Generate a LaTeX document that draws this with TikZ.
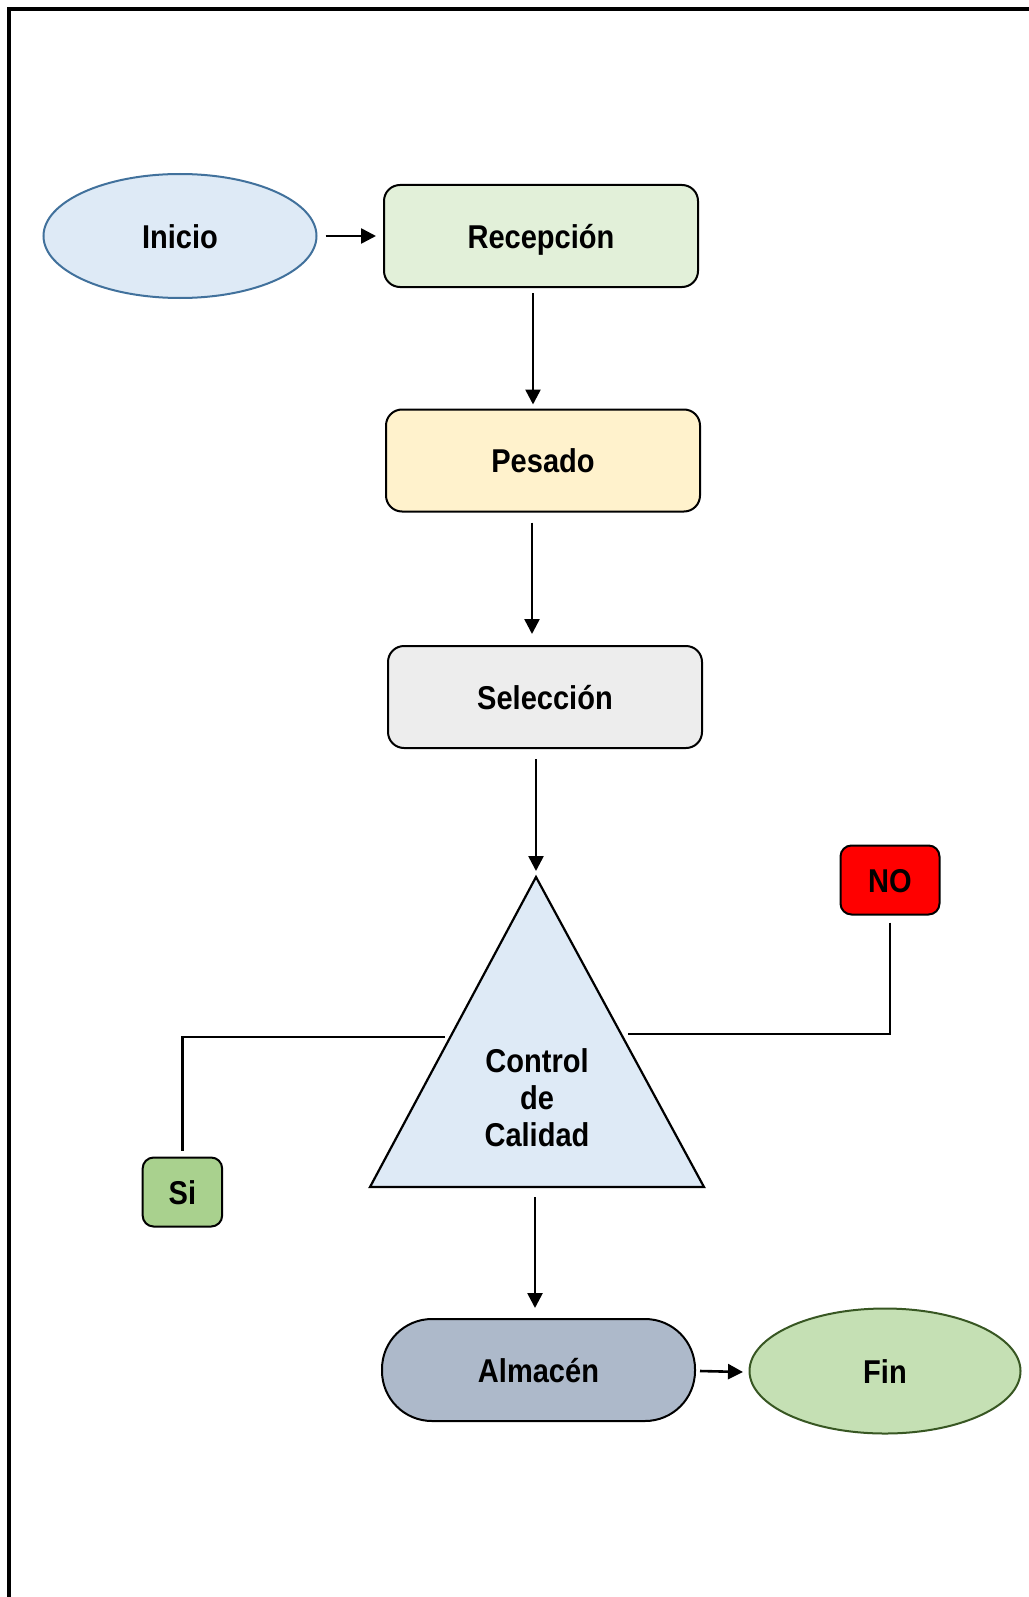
\documentclass[tikz,border=0pt]{standalone}
\usepackage{fontspec}
\setmainfont[FakeStretch=0.88]{Liberation Sans}
\usetikzlibrary{arrows.meta,calc,shapes.geometric}
\definecolor{iniFill}{HTML}{DEEAF6}
\definecolor{iniLine}{HTML}{41719C}
\definecolor{recFill}{HTML}{E2F0D9}
\definecolor{pesFill}{HTML}{FFF2CC}
\definecolor{selFill}{HTML}{EDEDED}
\definecolor{triFill}{HTML}{DEEAF6}
\definecolor{noFill}{HTML}{FF0000}
\definecolor{siFill}{HTML}{A9D18E}
\definecolor{almFill}{HTML}{ADB9CA}
\definecolor{finFill}{HTML}{C5E0B4}
\definecolor{finLine}{HTML}{385723}
\tikzset{
  lbl/.style={font=\fontsize{33}{37}\selectfont\bfseries, text=black, align=center, inner sep=0pt},
  onel/.style={lbl, text height=24pt, text depth=0pt},
  procbox/.style={onel, draw=black, line width=2pt, rounded corners=16pt, minimum width=314pt, minimum height=102pt},
  smallbox/.style={onel, draw=black, line width=2pt, rounded corners=11pt},
  oval/.style={onel, ellipse, line width=2pt},
  arr/.style={line width=2.6pt, -{Triangle[length=15pt,width=15pt]}},
  conn/.style={line width=2.6pt},
}
\begin{document}
\begin{tikzpicture}[x=1pt,y=-1pt]
\useasboundingbox (0,0) rectangle (1028,1597);
% frame
\draw[line width=4pt] (9,1600) -- (9,9) -- (1030,9);

% nodes
\node[oval, draw=iniLine, fill=iniFill, minimum width=273pt, minimum height=124pt] (ini) at (180,236) {Inicio};
\node[procbox, fill=recFill] (rec) at (541,236) {Recepción};
\node[procbox, fill=pesFill] (pes) at (543,460.5) {Pesado};
\node[procbox, fill=selFill] (sel) at (545,697) {Selección};

\coordinate (apex) at (536,877);
\coordinate (bl) at (370,1187);
\coordinate (br) at (704,1187);
\draw[line width=2.2pt, fill=triFill, line join=miter] (apex) -- (br) -- (bl) -- cycle;
\coordinate (basemid) at (537,1187);
\node[lbl] (tri) at (537,1098) {Control\\de\\Calidad};

\node[smallbox, fill=noFill, minimum width=99pt, minimum height=69pt] (no) at (890,880) {NO};
\node[smallbox, fill=siFill, minimum width=79.5pt, minimum height=69pt] (si) at (182.4,1192) {Si};

\node[onel, draw=black, line width=2pt, rounded corners=50pt, fill=almFill, minimum width=313pt, minimum height=102pt] (alm) at (538.5,1370) {Almacén};
\node[oval, draw=finLine, fill=finFill, minimum width=271pt, minimum height=125pt] (fin) at (885,1371) {Fin};

% connectors
\draw[arr] ($(ini.east)+(8,0)$) -- ($(rec.west)+(-7,0)$);
\draw[arr] ($(rec.south)+(-8,5)$) -- ($(pes.north)+(-10,-4)$);
\draw[arr] ($(pes.south)+(-11,10)$) -- ($(sel.north)+(-13,-11)$);
\draw[arr] ($(sel.south)+(-9,10)$) -- ($(apex)+(0,-6)$);
\draw[arr] ($(basemid)+(-2,10)$) -- ($(alm.north)+(-3.5,-10)$);
\draw[arr] ($(alm.east)+(4,1)$) -- ($(fin.west)+(-5.5,1)$);

\coordinate (noend) at (627.6,1034);
\draw[conn] ($(no.south)+(0,7)$) |- (noend);
\coordinate (siend) at (445.2,1037);
\draw[conn] (siend) -| ($(si.north)+(0,-6)$);
\end{tikzpicture}
\end{document}
